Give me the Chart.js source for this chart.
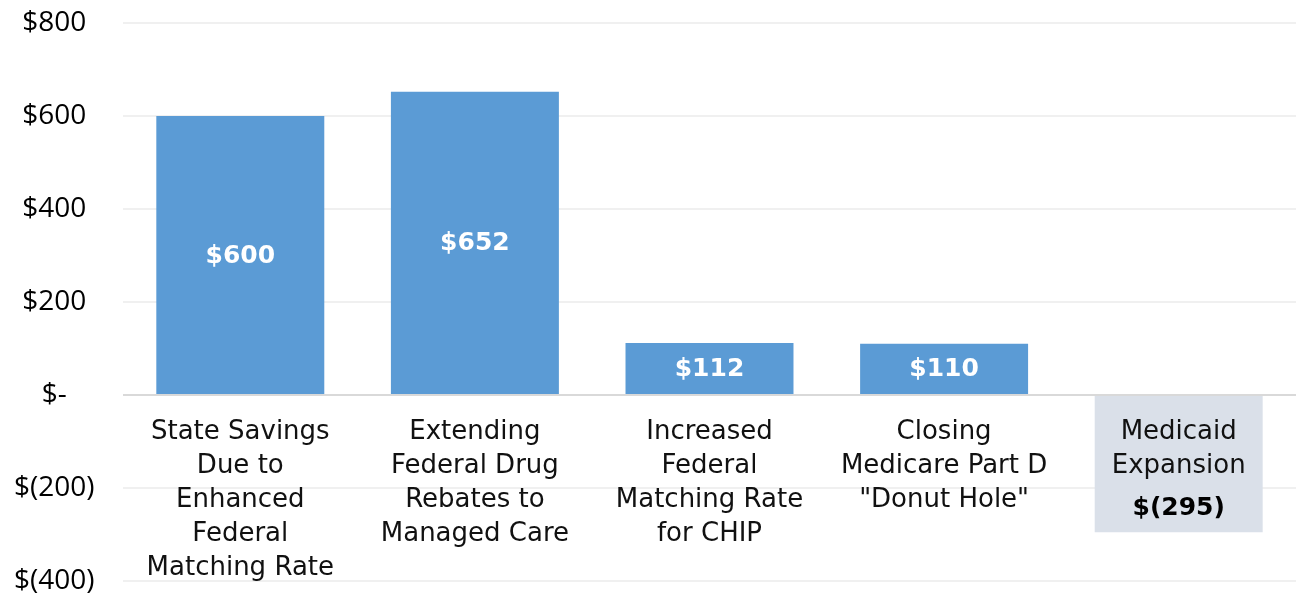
<!DOCTYPE html>
<html>
<head>
<meta charset="utf-8">
<script src="https://cdn.jsdelivr.net/npm/chart.js@4"></script>
<style>
html,body{margin:0;padding:0;background:#fff;}
#wrap{width:1296px;height:594px;position:relative;}
</style>
</head>
<body>
<div id="wrap"><canvas id="c" width="1296" height="594"></canvas></div>
<script>
const categories = [
  ["State Savings", "Due to", "Enhanced", "Federal", "Matching Rate"],
  ["Extending", "Federal Drug", "Rebates to", "Managed Care"],
  ["Increased", "Federal", "Matching Rate", "for CHIP"],
  ["Closing", "Medicare Part D", "\"Donut Hole\""],
  ["Medicaid", "Expansion"]
];
const values = [600, 652, 112, 110, -295];
const valueLabels = ["$600", "$652", "$112", "$110", "$(295)"];
const yTickValues = [-400, -200, 0, 200, 400, 600, 800];
const yTickLabels = ["$(400)", "$(200)", "$-", "$200", "$400", "$600", "$800"];

const barColors = values.map(v => v < 0 ? '#DAE0E9' : '#5B9BD5');

const valueLabelPlugin = {
  id: 'valueLabels',
  afterDatasetsDraw(chart) {
    const meta = chart.getDatasetMeta(0);
    const ctx = chart.ctx;
    ctx.save();
    ctx.font = 'bold 25px "DejaVu Sans"';
    ctx.textAlign = 'center';
    ctx.textBaseline = 'middle';
    meta.data.forEach((bar, i) => {
      const v = values[i];
      let y;
      if (v >= 0) {
        y = (bar.y + bar.base) / 2 + 1;
        ctx.fillStyle = '#ffffff';
      } else {
        y = bar.y - 24;
        ctx.fillStyle = '#000000';
      }
      ctx.fillText(valueLabels[i], bar.x, y);
    });
    ctx.restore();
  }
};

new Chart(document.getElementById('c'), {
  type: 'bar',
  data: {
    labels: categories,
    datasets: [{
      data: values,
      backgroundColor: barColors,
      borderWidth: 0,
      barPercentage: 0.716,
      categoryPercentage: 1.0
    }]
  },
  options: {
    responsive: false,
    animation: false,
    layout: { padding: { top: 23, right: 0, bottom: 13, left: 0 } },
    plugins: { legend: { display: false }, tooltip: { enabled: false } },
    scales: {
      x: {
        position: { y: 0 },
        grid: { display: false, drawTicks: false },
        border: { display: false },
        ticks: {
          z: 1,
          color: '#111111',
          font: { family: '"DejaVu Sans"', size: 26, lineHeight: 34 / 26 },
          padding: 20,
          maxRotation: 0,
          autoSkip: false
        }
      },
      y: {
        min: -400,
        max: 800,
        afterBuildTicks(scale) {
          scale.ticks = yTickValues.map(v => ({ value: v }));
        },
        afterFit(scale) {
          scale.width = 123;
          scale.paddingTop = 0;
          scale.paddingBottom = 0;
        },
        grid: {
          drawTicks: false,
          lineWidth: 2,
          color: ctx => (ctx.tick && ctx.tick.value === 0) ? '#D9D9D9' : '#F0F0F0'
        },
        border: { display: false },
        ticks: {
          color: '#000000',
          crossAlign: 'center',
          padding: 28.5,
          font: { family: '"Open Sans"', size: 28, lineHeight: 1.0 },
          callback: (v) => yTickLabels[yTickValues.indexOf(v)]
        }
      }
    }
  },
  plugins: [valueLabelPlugin]
});
</script>
</body>
</html>
